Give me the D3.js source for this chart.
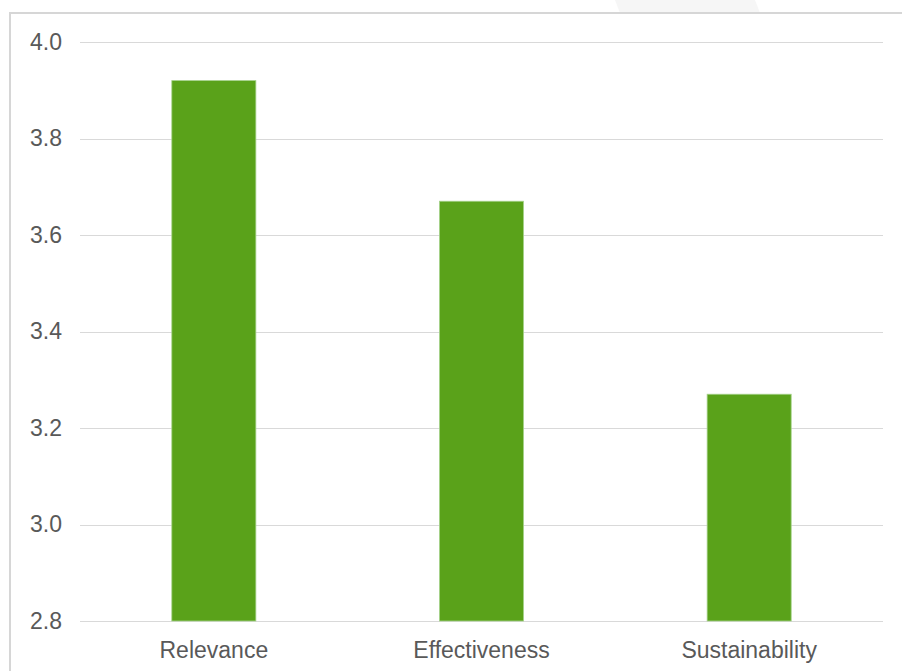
<!DOCTYPE html>
<html><head><meta charset="utf-8">
<script src="https://cdn.jsdelivr.net/npm/d3@7"></script>
<style>html,body{margin:0;padding:0;background:#fff;}svg{display:block;}</style>
</head><body>
<script>
const categories = ["Relevance", "Effectiveness", "Sustainability"];
const values = [3.92, 3.67, 3.27];
const yTicks = [2.8, 3.0, 3.2, 3.4, 3.6, 3.8, 4.0];

const W = 902, H = 671;
const svg = d3.select("body").append("svg").attr("width", W).attr("height", H);

// faint background shape at top
svg.append("polygon").attr("points", "615,0 755,0 760,13 620,13").attr("fill", "#f6f6f6");

// chart frame
svg.append("rect").attr("x", 10).attr("y", 13).attr("width", W + 20).attr("height", H + 20)
  .attr("fill", "#fff").attr("stroke", "#d6d6d6").attr("stroke-width", 2);

const plotLeft = 80, plotRight = 883, plotTop = 42, plotBottom = 621;
const x = d3.scaleBand().domain(categories).range([plotLeft, plotRight]).paddingInner(0.686).paddingOuter(0.343);
const y = d3.scaleLinear().domain([2.8, 4.0]).range([plotBottom, plotTop]);

const font = "Liberation Sans, Arial, sans-serif";

// gridlines
svg.append("g").selectAll("line").data(yTicks).join("line")
  .attr("x1", plotLeft).attr("x2", plotRight)
  .attr("y1", d => Math.round(y(d)) + 0.5).attr("y2", d => Math.round(y(d)) + 0.5)
  .attr("stroke", "#d9d9d9").attr("stroke-width", 1);

// y axis labels
const yAxis = d3.axisLeft(y).tickValues(yTicks).tickFormat(d3.format(".1f")).tickSize(0).tickPadding(0);
const gy = svg.append("g").attr("transform", `translate(62,0)`).call(yAxis);
gy.select(".domain").remove();
gy.selectAll("text").attr("font-family", font).attr("font-size", 23).attr("fill", "#595959");

// bars
svg.append("g").selectAll("rect").data(values).join("rect")
  .attr("x", (d, i) => x(categories[i]))
  .attr("width", x.bandwidth())
  .attr("y", d => y(d))
  .attr("height", d => y(2.8) - y(d))
  .attr("fill", "#5aa21a")
  .attr("stroke", "#a5d18a").attr("stroke-width", 0.8);

// x axis labels
const xAxis = d3.axisBottom(x).tickSize(0).tickPadding(0);
const gx = svg.append("g").attr("transform", `translate(0,658)`).call(xAxis);
gx.select(".domain").remove();
gx.selectAll("text").attr("font-family", font).attr("font-size", 23).attr("fill", "#595959").attr("y", 0).attr("dy", 0);
</script>
</body></html>
